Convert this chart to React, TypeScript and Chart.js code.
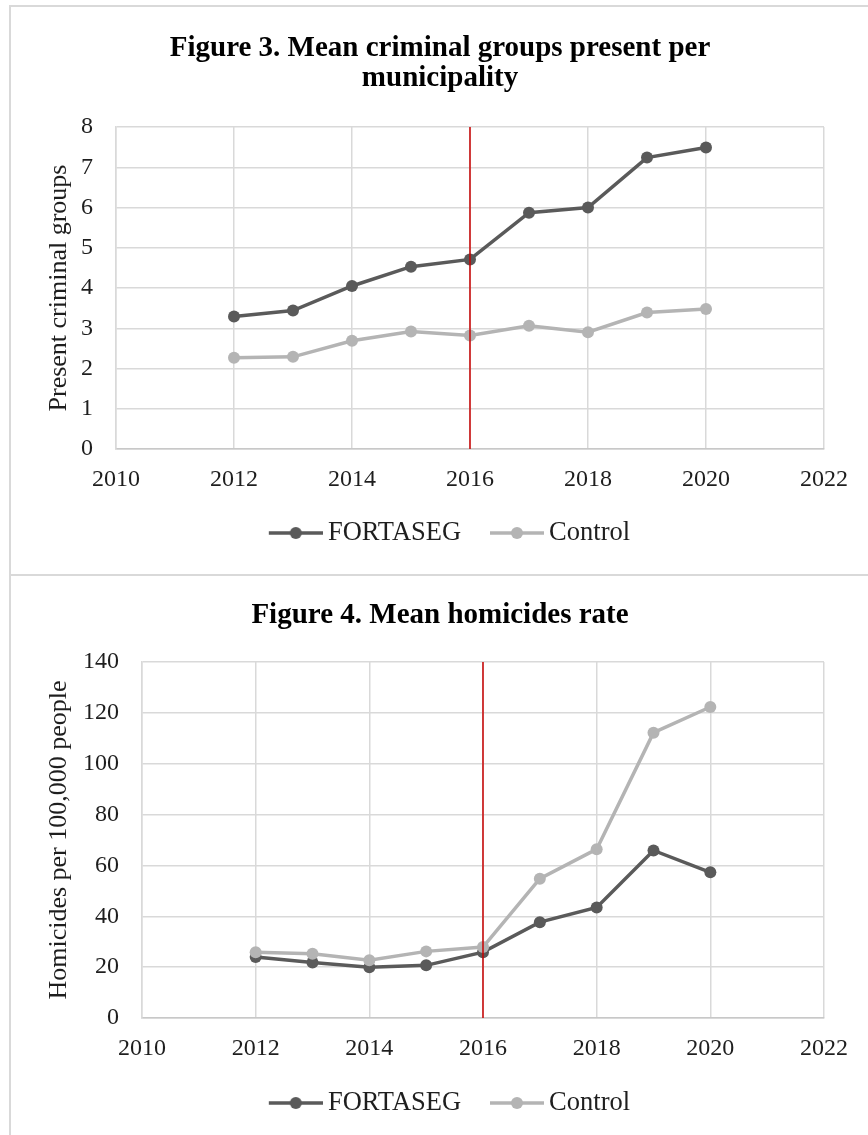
import React, { useEffect, useRef } from 'react';
import { Chart, registerables } from 'chart.js';

Chart.register(...registerables);

// ---------- data ----------
const years = [2012, 2013, 2014, 2015, 2016, 2017, 2018, 2019, 2020];
const xTickValues = [2010, 2012, 2014, 2016, 2018, 2020, 2022];
const interventionYear = 2016;

const groupsFortaseg = [3.29, 3.44, 4.05, 4.53, 4.71, 5.87, 6.0, 7.24, 7.49];
const groupsControl = [2.27, 2.29, 2.69, 2.92, 2.82, 3.06, 2.9, 3.39, 3.48];
const groupsYTicks = [0, 1, 2, 3, 4, 5, 6, 7, 8];

const homicideFortaseg = [24.0, 21.8, 20.0, 20.7, 25.9, 37.7, 43.5, 65.9, 57.3];
const homicideControl = [25.9, 25.3, 22.7, 26.2, 27.9, 54.8, 66.4, 112.2, 122.3];
const homicideYTicks = [0, 20, 40, 60, 80, 100, 120, 140];

const seriesLabels = ['FORTASEG', 'Control'];
const figure3Title = ['Figure 3. Mean criminal groups present per', 'municipality'];
const figure4Title = 'Figure 4. Mean homicides rate';
const figure3YTitle = 'Present criminal groups';
const figure4YTitle = 'Homicides per 100,000 people';

// ---------- styles ----------
const FONT = "'Liberation Serif', 'Times New Roman', serif";
const TEXT = '#1e1e1e';
const DARK = '#5a5a5a';
const LIGHT = '#b4b4b4';
const RED = '#c80000';
const GRID = '#d9d9d9';
const BOX = '#d9d9d9';

// legend geometry
const LEGEND_FONT = 26.5;
const LEGEND_PAD = 10;
const LEGEND_BOX_W = 64.75;
const LEGEND_LINE_LEN = 54;
const LEGEND_TEXT_GAP = 5;

function makeLegendIcon(color: string): HTMLCanvasElement {
  // image is centred on the legend box; the line sits at its right end, next to the text
  const half = LEGEND_FONT / 2;
  const w = Math.round(LEGEND_BOX_W + 2 * half - 2 * LEGEND_TEXT_GAP);
  const c = document.createElement('canvas');
  c.width = w;
  c.height = 14;
  const ctx = c.getContext('2d')!;
  const x1 = w;
  const x0 = w - LEGEND_LINE_LEN;
  ctx.strokeStyle = color;
  ctx.lineWidth = 3.5;
  ctx.beginPath();
  ctx.moveTo(x0, 7);
  ctx.lineTo(x1, 7);
  ctx.stroke();
  ctx.fillStyle = color;
  ctx.beginPath();
  ctx.arc((x0 + x1) / 2, 7, 6, 0, Math.PI * 2);
  ctx.fill();
  return c;
}

type Layout = {
  title: string | string[];
  titlePadTop: number;
  titlePadBottom: number;
  yTitle: string;
  yTicks: number[];
  fortaseg: number[];
  control: number[];
  yAxisWidth: number;
  xAxisHeight: number;
  layoutBottom: number;
};

function buildConfig(p: Layout): any {
  const icons = [makeLegendIcon(DARK), makeLegendIcon(LIGHT)];
  const yMin = p.yTicks[0];
  const yMax = p.yTicks[p.yTicks.length - 1];
  return {
    type: 'line',
    data: {
      datasets: [
        {
          label: seriesLabels[0],
          data: years.map((x, i) => ({ x, y: p.fortaseg[i] })),
          borderColor: DARK,
          backgroundColor: DARK,
          pointBackgroundColor: DARK,
          pointBorderWidth: 0,
          pointRadius: 6,
          borderWidth: 3.5,
          order: 2,
          xAxisID: 'x',
          yAxisID: 'y',
        },
        {
          label: seriesLabels[1],
          data: years.map((x, i) => ({ x, y: p.control[i] })),
          borderColor: LIGHT,
          backgroundColor: LIGHT,
          pointBackgroundColor: LIGHT,
          pointBorderWidth: 0,
          pointRadius: 6,
          borderWidth: 3.5,
          order: 1,
          xAxisID: 'x',
          yAxisID: 'y',
        },
        {
          label: 'intervention',
          data: [
            { x: interventionYear, y: yMin },
            { x: interventionYear, y: yMax },
          ],
          borderColor: RED,
          backgroundColor: RED,
          borderWidth: 1.5,
          pointRadius: 0,
          order: 0,
          xAxisID: 'x',
          yAxisID: 'y',
        },
      ],
    },
    options: {
      responsive: false,
      maintainAspectRatio: false,
      animation: false,
      layout: { padding: { left: 0, right: 0, top: 0, bottom: p.layoutBottom } },
      plugins: {
        tooltip: { enabled: false },
        title: {
          display: true,
          text: p.title,
          color: '#000',
          font: { family: FONT, size: 29, weight: 'bold', lineHeight: '30px' },
          padding: { top: p.titlePadTop, bottom: p.titlePadBottom },
        },
        legend: {
          display: true,
          position: 'bottom',
          labels: {
            usePointStyle: true,
            pointStyleWidth: LEGEND_BOX_W,
            padding: LEGEND_PAD,
            color: TEXT,
            font: { family: FONT, size: LEGEND_FONT },
            generateLabels: (chart: any) =>
              chart.data.datasets.slice(0, 2).map((ds: any, i: number) => ({
                text: ds.label,
                fillStyle: ds.borderColor,
                strokeStyle: ds.borderColor,
                lineWidth: 0,
                pointStyle: icons[i],
                hidden: false,
                datasetIndex: i,
                fontColor: TEXT,
              })),
          },
        },
      },
      scales: {
        x: {
          type: 'linear',
          position: 'bottom',
          min: xTickValues[0],
          max: xTickValues[xTickValues.length - 1],
          afterBuildTicks: (s: any) => {
            s.ticks = xTickValues.map((v) => ({ value: v }));
          },
          ticks: {
            callback: (v: any) => String(v),
            padding: 16.5,
            color: TEXT,
            font: { family: FONT, size: 24 },
            maxRotation: 0,
            autoSkip: false,
          },
          grid: { color: GRID, lineWidth: 1.5, drawTicks: false },
          border: { color: '#c8c8c8', width: 1.5 },
          afterFit: (s: any) => {
            s.height = p.xAxisHeight;
          },
        },
        y: {
          type: 'linear',
          position: 'left',
          min: yMin,
          max: yMax,
          afterBuildTicks: (s: any) => {
            s.ticks = p.yTicks.map((v) => ({ value: v }));
          },
          ticks: {
            callback: (v: any) => String(v),
            padding: 23,
            color: TEXT,
            font: { family: FONT, size: 24 },
          },
          grid: { color: GRID, lineWidth: 1.5, drawTicks: false },
          border: { color: GRID, width: 1.5 },
          title: {
            display: true,
            text: p.yTitle,
            color: TEXT,
            font: { family: FONT, size: 26 },
            padding: { top: 33, bottom: 0 },
          },
          afterFit: (s: any) => {
            s.width = p.yAxisWidth;
          },
        },
        yRight: {
          type: 'linear',
          position: 'right',
          display: true,
          grid: { display: false },
          border: { display: false },
          ticks: { display: false },
          afterFit: (s: any) => {
            s.width = 45;
          },
        },
      },
    },
  };
}

function ChartCanvas({ layout, left, top, width, height }: { layout: Layout; left: number; top: number; width: number; height: number }) {
  const ref = useRef<HTMLCanvasElement>(null);
  useEffect(() => {
    const chart = new Chart(ref.current!, buildConfig(layout));
    return () => chart.destroy();
  }, []);
  return (
    <canvas
      ref={ref}
      width={width}
      height={height}
      style={{ position: 'absolute', left, top, width, height }}
    />
  );
}

const fig3Layout: Layout = {
  title: figure3Title,
  titlePadTop: 27,
  titlePadBottom: 33,
  yTitle: figure3YTitle,
  yTicks: groupsYTicks,
  fortaseg: groupsFortaseg,
  control: groupsControl,
  yAxisWidth: 105,
  xAxisHeight: 60.75,
  layoutBottom: 17.75,
};

const fig4Layout: Layout = {
  title: figure4Title,
  titlePadTop: 24,
  titlePadBottom: 31,
  yTitle: figure4YTitle,
  yTicks: homicideYTicks,
  fortaseg: homicideFortaseg,
  control: homicideControl,
  yAxisWidth: 131,
  xAxisHeight: 61.75,
  layoutBottom: 8.75,
};

export default function App() {
  return (
    <div
      style={{
        position: 'absolute',
        left: 0,
        top: 0,
        width: 868,
        height: 1135,
        overflow: 'hidden',
        background: '#fff',
      }}
    >
      <div style={{ position: 'absolute', left: 9, top: 5, width: 2, height: 1200, background: BOX }} />
      <div style={{ position: 'absolute', left: 9, top: 5, width: 900, height: 2, background: BOX }} />
      <div style={{ position: 'absolute', left: 9, top: 574, width: 900, height: 2, background: BOX }} />
      <ChartCanvas layout={fig3Layout} left={11} top={7} width={858} height={567} />
      <ChartCanvas layout={fig4Layout} left={11} top={577} width={858} height={558} />
    </div>
  );
}
